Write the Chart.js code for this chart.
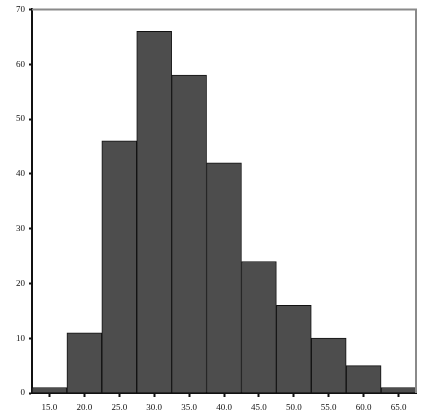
<!DOCTYPE html>
<html>
<head>
<meta charset="utf-8">
<script src="https://cdn.jsdelivr.net/npm/chart.js@4.4.0/dist/chart.umd.min.js"></script>
<style>
  html, body { margin: 0; padding: 0; background: #ffffff; }
  canvas { display: block; }
</style>
</head>
<body>
<canvas id="hist" width="437" height="417"></canvas>
<script>
// bin centres and counts
const binLabels = ['15.0', '20.0', '25.0', '30.0', '35.0', '40.0', '45.0', '50.0', '55.0', '60.0', '65.0'];
const counts    = [1, 11, 46, 66, 58, 42, 24, 16, 10, 5, 1];
const yTicks    = [0, 10, 20, 30, 40, 50, 60, 70];

// gray frame on top and right of the plot area
const frameTopRight = {
    id: 'frameTopRight',
    afterDraw: (chart) => {
        const {ctx, chartArea: {top, bottom, left, right}} = chart;
        ctx.save();
        ctx.strokeStyle = '#8a8a8a';
        ctx.lineWidth = 2;
        ctx.beginPath();
        ctx.moveTo(left, top);
        ctx.lineTo(right, top);
        ctx.lineTo(right, bottom);
        ctx.stroke();
        ctx.restore();
    }
}

Chart.defaults.font.family = '"Liberation Serif", "DejaVu Serif", serif';
Chart.defaults.font.size = 9;
Chart.defaults.color = '#111111';

const ctx = document.getElementById('hist');

new Chart(ctx, {
    type: 'bar',
    data: {
        labels: binLabels,
        datasets: [{
            data: counts,
            backgroundColor: '#4d4d4d',
            borderColor: '#111111',
            borderWidth: 1,
            barPercentage: 1,
            categoryPercentage: 1
        }]
    },
    options: {
        responsive: false,
        animation: false,
        layout: {
            padding: { top: 6, right: 21, left: 0, bottom: 0 }
        },
        scales: {
            x: {
                offset: true,
                grid: {
                    offset: false,
                    drawOnChartArea: false,
                    drawTicks: true,
                    tickLength: 4,
                    tickWidth: 2,
                    tickColor: '#111111'
                },
                border: { color: '#111111', width: 2 },
                ticks: { padding: 5, maxRotation: 0, autoSkip: false },
                afterFit: (s) => { s.height = 24; }
            },
            y: {
                min: 0,
                max: 70,
                afterBuildTicks: (s) => { s.ticks = yTicks.map(v => ({value: v})); },
                grid: {
                    drawOnChartArea: false,
                    drawTicks: true,
                    tickLength: 3,
                    tickWidth: 2,
                    tickColor: '#111111'
                },
                border: { color: '#111111', width: 2 },
                ticks: { padding: 4 },
                afterFit: (s) => { s.width = 32; }
            }
        },
        plugins: {
            legend: { display: false },
            tooltip: { enabled: false }
        }
    },
    plugins: [frameTopRight]
});
</script>
</body>
</html>
